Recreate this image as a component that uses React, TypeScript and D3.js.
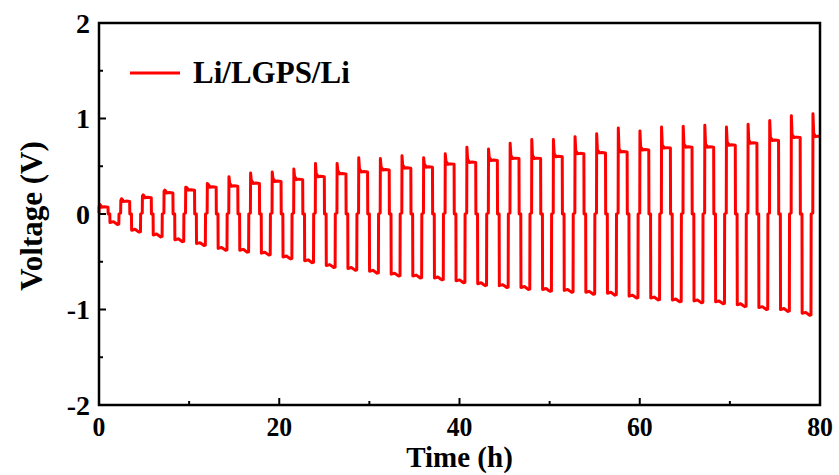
import React from 'react';
import * as d3 from 'd3';

// per cycle values (V)
const posPeak = [0.08, 0.14, 0.19, 0.24, 0.28, 0.32, 0.39, 0.43, 0.44, 0.47, 0.53, 0.53, 0.59, 0.58, 0.61, 0.59, 0.63,
  0.70, 0.68, 0.74, 0.78, 0.78, 0.81, 0.84, 0.90, 0.87, 0.91, 0.92, 0.93, 0.91, 0.94, 0.98, 1.03, 1.05];
const posPlateau = [0.07, 0.13, 0.17, 0.22, 0.25, 0.28, 0.29, 0.32, 0.34, 0.36, 0.39, 0.42, 0.44, 0.46, 0.48, 0.49, 0.52,
  0.54, 0.56, 0.58, 0.58, 0.60, 0.63, 0.64, 0.65, 0.67, 0.69, 0.70, 0.70, 0.72, 0.74, 0.77, 0.80, 0.81];
const negPlateau = [-0.09, -0.17, -0.22, -0.27, -0.31, -0.36, -0.38, -0.41, -0.45, -0.49, -0.54, -0.57, -0.60, -0.63,
  -0.65, -0.67, -0.70, -0.73, -0.75, -0.77, -0.79, -0.80, -0.82, -0.83, -0.86, -0.88, -0.90, -0.91, -0.92, -0.95,
  -0.98, -1.00, -1.04];

// cycling protocol (h): 1 h charge, 0.2 h rest, 1 h discharge, 0.2 h rest
const stepHours = [1, 0.2, 1, 0.2];
const xTicks = [0, 20, 40, 60, 80];
const xMinor = [10, 30, 50, 70];
const yTicks = [-2, -1, 0, 1, 2];
const yMinor = [-1.5, -0.5, 0.5, 1.5];

const W = 839, H = 475;
const margin = { left: 99, top: 23, right: 19, bottom: 70 };
const font = '"Liberation Serif", "Times New Roman", serif';

function buildTrace(): [number, number][] {
  const pts: [number, number][] = [];
  const period = d3.sum(stepHours);
  for (let k = 0; k < posPeak.length; k++) {
    const t0 = k * period;
    const p = posPlateau[k];
    pts.push([t0, 0.01], [t0 + 0.02, posPeak[k]], [t0 + 0.1, p + 0.03], [t0 + 0.2, p + 0.02], [t0 + 0.3, p], [t0 + 0.6, p + 0.005]);
    const tEnd = t0 + stepHours[0];
    if (tEnd > 80) { pts.push([80, p]); break; }
    pts.push([tEnd, p], [tEnd + 0.02, 0], [tEnd + stepHours[1], 0]);
    if (k < negPlateau.length) {
      const n = negPlateau[k];
      const ts = tEnd + stepHours[1];
      pts.push([ts + 0.02, n], [ts + 0.4, n + 0.01], [ts + 0.7, n - 0.01], [ts + 0.85, n - 0.02], [ts + 1.0, n - 0.015]);
      pts.push([ts + 1.02, 0]);
    }
  }
  return pts;
}

export default function App() {
  const w = W - margin.left - margin.right;
  const h = H - margin.top - margin.bottom;
  const x = d3.scaleLinear().domain([0, 80]).range([0, w]);
  const y = d3.scaleLinear().domain([-2, 2]).range([h, 0]);
  const line = d3.line<[number, number]>().x(d => x(d[0])).y(d => y(d[1]));
  const trace = buildTrace();

  return (
    <svg width={W} height={H} style={{ position: 'absolute', left: 0, top: 0, background: '#fff' }}
      fontFamily={font} fontWeight="bold">
      <g transform={`translate(${margin.left},${margin.top})`}>
        <path d={line(trace) || ''} fill="none" stroke="#ff0000" strokeWidth={3} strokeLinejoin="round" />
        <rect x={0} y={0} width={w} height={h} fill="none" stroke="#000" strokeWidth={2.5} />
        {xTicks.map(t => (
          <g key={'x' + t} transform={`translate(${x(t)},${h})`}>
            <line y2={-7} stroke="#000" strokeWidth={2} />
            <text y={31} textAnchor="middle" fontSize={28} transform="scale(0.92,1)" >{t}</text>
          </g>
        ))}
        {xMinor.map(t => (
          <line key={'xm' + t} x1={x(t)} x2={x(t)} y1={h} y2={h - 4} stroke="#000" strokeWidth={2} />
        ))}
        {yTicks.map(t => (
          <g key={'y' + t} transform={`translate(0,${y(t)})`}>
            <line x2={7} stroke="#000" strokeWidth={2} />
            <text x={-9} dy="0.35em" textAnchor="end" fontSize={28}>{t}</text>
          </g>
        ))}
        {yMinor.map(t => (
          <line key={'ym' + t} x1={0} x2={4} y1={y(t)} y2={y(t)} stroke="#000" strokeWidth={2} />
        ))}
        <text x={w / 2} y={h + 62} textAnchor="middle" fontSize={29}>Time (h)</text>
        <text transform={`translate(${-57},${h / 2 + 2}) rotate(-90)`} textAnchor="middle" fontSize={31}>Voltage (V)</text>
        <line x1={31} x2={81} y1={50} y2={50} stroke="#ff0000" strokeWidth={3} />
        <text x={94} y={60} fontSize={31}>Li/LGPS/Li</text>
      </g>
    </svg>
  );
}
